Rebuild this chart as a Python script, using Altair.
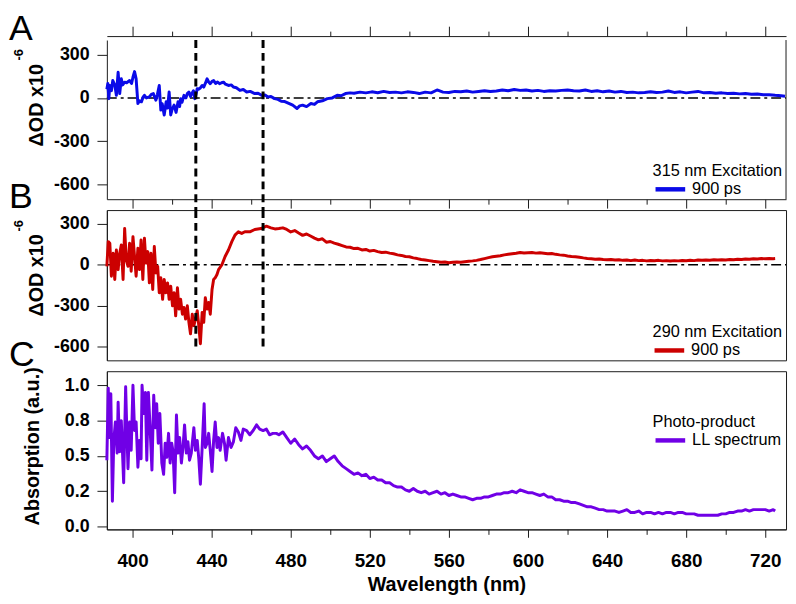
import altair as alt
import pandas as pd

# ---------------- data ----------------
wl_a = [
    387, 387.5, 388, 388.5, 389.3, 390, 391, 391.8, 392.7, 393.5,
    394.3, 395, 396, 397, 398.5, 399.5, 400.2, 401, 401.8, 402.7,
    403.5, 404.5, 405.3, 406, 407, 408.5, 409.5, 410.5, 411.8, 412.5,
    413.5, 414.3, 415, 416, 417, 417.7, 418.5, 419.3, 420, 421,
    422, 423, 423.8, 424.3, 425, 426, 427, 427.7, 428.5, 429.3,
    430, 430.8, 431.5, 432.2, 432.7, 433.5, 434.3, 435.2, 436, 436.8,
    437.7, 438.5, 439.3, 440.2, 441, 442, 443, 444, 445, 446,
    447, 448.5, 450, 451, 452.5, 454.3, 456, 457.7, 459.5, 461.8,
    463.5, 465.2, 467, 468.5, 470, 471.8, 473.5, 475.2, 477, 479.3,
    481, 483.2, 484.5, 486, 488, 490.2, 492, 493.5, 496, 498.5,
    501, 503.5, 505.5, 507.7, 510, 512, 515, 518, 521, 524,
    527, 530, 533, 536, 539, 542, 545, 548, 551, 554,
    557, 560, 563, 566, 569, 572, 575, 578, 581, 584,
    587, 590, 593, 596, 599, 602, 605, 608, 611, 614,
    617, 620, 623, 626, 629, 632, 635, 638, 641, 644,
    647, 650, 653, 656, 659, 662, 665, 668, 671, 674,
    677, 680, 683, 686, 689, 692, 695, 698, 701, 704,
    707, 710, 713, 716, 719, 722, 725, 728, 730]
od_a = [
    60, 100, -5, 86, 50, 120, 90, 18, 177, 30,
    132, 90, 109, 105, 120, 100, 143, 182, 132, -39,
    -20, -27, 5, 18, 0, 7, 25, 30, -16, 20,
    86, -84, -40, -118, -27, -70, 41, -118, -80, -50,
    -100, -27, -60, -5, -30, 18, 0, 30, 41, 10,
    30, 50, -5, 30, 64, 60, 70, 86, 75, 100,
    132, 110, 98, 115, 120, 100, 110, 98, 105, 109,
    95, 86, 90, 75, 70, 52, 58, 41, 45, 30,
    32, 18, 20, 7, 10, -5, -10, -23, -25, -39,
    -50, -73, -55, -50, -60, -39, -45, -27, -20, -5,
    0, 18, 15, 30, 35, 32, 40, 35, 42, 36,
    45, 38, 40, 35, 42, 38, 30, 40, 35, 55,
    40, 38, 45, 42, 48, 40, 45, 50, 44, 48,
    55, 50, 58, 52, 55, 48, 52, 45, 50, 48,
    52, 55, 50, 48, 55, 45, 50, 42, 48, 40,
    45, 38, 40, 35, 38, 42, 38, 40, 48, 38,
    42, 35, 40, 45, 35, 38, 32, 35, 30, 32,
    28, 30, 25, 27, 22, 22, 18, 15, 12]

wl_b = [
    387, 387.7, 388.5, 389.3, 390.2, 391, 391.8, 392.7, 393.5, 394.3,
    395.2, 396, 396.8, 397.7, 398.5, 399.3, 400.2, 401, 401.8, 402.7,
    403.5, 404.3, 405.2, 406, 406.8, 407.7, 408.5, 409.3, 410.2, 411,
    411.8, 412.7, 413.5, 414.3, 415.2, 416, 416.8, 417.7, 418.5, 419.3,
    420.2, 421, 421.8, 422.7, 423.5, 424.3, 425.2, 426, 426.8, 427.7,
    428.5, 429.3, 430.2, 431, 431.8, 432.7, 433.5, 434.3, 435.2, 436,
    436.8, 437.7, 438.5, 439.3, 440.2, 441, 441.8, 442.7, 443.5, 445.2,
    446.8, 448.5, 450.2, 451.8, 453.5, 455.2, 456.8, 459.3, 461.8, 465,
    467.7, 470, 472, 474, 476, 478, 480, 482, 484, 486,
    488, 490, 492, 494, 496, 498, 500, 502, 504, 506,
    508, 510, 512, 514, 516, 518, 520, 522, 524, 526,
    528, 530, 532, 534, 536, 538, 540, 542, 544, 546,
    548, 550, 552, 554, 556, 558, 560, 562, 564, 566,
    568, 570, 572, 574, 576, 578, 580, 582, 584, 586,
    588, 590, 592, 594, 596, 598, 600, 602, 604, 606,
    608, 610, 612, 614, 616, 618, 620, 622, 624, 626,
    628, 630, 632, 634, 636, 638, 640, 642, 644, 646,
    648, 650, 652, 654, 656, 658, 660, 662, 664, 666,
    668, 670, 672, 674, 676, 678, 680, 682, 684, 686,
    688, 690, 692, 694, 696, 698, 700, 702, 704, 706,
    708, 710, 712, 714, 716, 718, 720, 722, 724, 725]
od_b = [
    -12, 169, 157, -84, 84, -108, 108, -36, 84, 145,
    -108, 265, 36, -12, 157, -48, 205, 60, -84, 120,
    -36, 181, -108, 193, 12, 96, -133, 84, -181, 133,
    -60, -12, -205, -96, -253, -108, -205, -133, -253, -157,
    -301, -205, -374, -169, -325, -253, -362, -313, -398, -301,
    -422, -506, -362, -446, -398, -337, -446, -578, -349, -422,
    -241, -325, -277, -362, -181, -108, -96, -72, -36, 0,
    60, 108, 169, 217, 241, 229, 241, 241, 258, 265,
    282, 270, 262, 265, 270, 258, 240, 250, 232, 215,
    225, 210, 195, 182, 190, 165, 170, 158, 150, 140,
    130, 128, 118, 120, 108, 112, 100, 105, 96, 90,
    92, 85, 80, 72, 68, 60, 58, 50, 45, 38,
    35, 30, 25, 22, 18, 20, 15, 18, 20, 18,
    22, 25, 28, 32, 38, 45, 52, 58, 62, 66,
    72, 76, 80, 84, 90, 86, 88, 90, 85, 88,
    84, 80, 82, 76, 72, 70, 64, 60, 58, 55,
    50, 46, 44, 40, 42, 38, 36, 38, 34, 36,
    32, 35, 30, 34, 30, 32, 28, 31, 29, 32,
    28, 30, 27, 30, 28, 31, 29, 32, 30, 34,
    32, 35, 33, 36, 34, 37, 35, 38, 36, 40,
    38, 42, 40, 44, 42, 45, 43, 46, 44, 45]

wl_c = [
    387, 387.7, 388.5, 389, 389.8, 390.5, 391.3, 392.2, 392.7, 393.5,
    394.3, 395.5, 396.5, 397.2, 397.7, 398.5, 399.3, 400.2, 401, 401.8,
    402.7, 403.5, 404.3, 404.8, 405.7, 406.5, 407.2, 408, 408.8, 409.8,
    410.7, 411.5, 412.2, 413, 413.8, 414.8, 415.7, 416.5, 417.3, 418.2,
    419, 419.8, 420.5, 421.3, 422.2, 423, 423.8, 424.7, 425.5, 426.3,
    427.2, 428, 428.8, 429.7, 431, 431.8, 432.7, 433.5, 434.3, 435.2,
    436.2, 436.8, 437.7, 438.5, 439.3, 440.2, 441, 441.8, 442.7, 443.5,
    444.3, 445.5, 446.5, 447.3, 448.5, 449.8, 451, 452.2, 453.5, 454.8,
    456, 457.7, 459.3, 461, 462.7, 464.3, 466, 467.7, 469.3, 471,
    472.7, 474, 476, 478, 480, 482, 484, 486, 488, 490,
    492, 494, 496, 498, 500, 502, 504, 506, 508, 510,
    512, 514, 516, 518, 520, 522, 524, 526, 528, 530,
    532, 534, 536, 538, 540, 542, 544, 546, 548, 550,
    552, 554, 556, 558, 560, 562, 564, 566, 568, 570,
    572, 574, 576, 578, 580, 582, 584, 586, 588, 590,
    592, 594, 596, 598, 600, 602, 604, 606, 608, 610,
    612, 614, 616, 618, 620, 622, 624, 626, 628, 630,
    632, 634, 636, 638, 640, 642, 644, 646, 648, 650,
    652, 654, 656, 658, 660, 662, 664, 666, 668, 670,
    672, 674, 676, 678, 680, 682, 684, 686, 688, 690,
    692, 694, 696, 698, 700, 702, 704, 706, 708, 710,
    712, 714, 716, 718, 720, 722, 724, 725]
abs_c = [
    0.47, 0.98, 0.63, 0.94, 0.18, 0.61, 0.74, 0.52, 0.88, 0.53,
    0.75, 0.31, 0.99, 0.63, 0.41, 0.74, 0.54, 1.0, 0.68, 0.74,
    0.42, 0.61, 0.48, 1.0, 0.80, 0.95, 0.47, 0.95, 0.72, 0.40,
    0.93, 0.70, 0.87, 0.59, 0.80, 0.45, 0.37, 0.59, 0.49, 0.66,
    0.45, 0.59, 0.53, 0.24, 0.79, 0.52, 0.63, 0.45, 0.56, 0.72,
    0.52, 0.60, 0.47, 0.52, 0.70, 0.54, 0.61, 0.48, 0.30, 0.56,
    0.87, 0.56, 0.59, 0.66, 0.54, 0.39, 0.61, 0.74, 0.56, 0.63,
    0.54, 0.66, 0.59, 0.47, 0.63, 0.56, 0.60, 0.70, 0.67, 0.61,
    0.69, 0.68, 0.65, 0.68, 0.72, 0.69, 0.68, 0.69, 0.65, 0.66,
    0.66, 0.65, 0.67, 0.63, 0.59, 0.62, 0.58, 0.55, 0.57, 0.54,
    0.50, 0.48, 0.50, 0.46, 0.48, 0.50, 0.46, 0.43, 0.41, 0.39,
    0.37, 0.38, 0.36, 0.37, 0.34, 0.35, 0.33, 0.33, 0.31, 0.31,
    0.29, 0.28, 0.28, 0.26, 0.25, 0.27, 0.25, 0.24, 0.25, 0.23,
    0.24, 0.25, 0.23, 0.24, 0.22, 0.23, 0.22, 0.21, 0.21, 0.20,
    0.19, 0.20, 0.20, 0.21, 0.21, 0.22, 0.23, 0.23, 0.24, 0.24,
    0.25, 0.24, 0.26, 0.25, 0.24, 0.24, 0.23, 0.22, 0.23, 0.21,
    0.21, 0.19, 0.19, 0.18, 0.18, 0.17, 0.17, 0.16, 0.15, 0.14,
    0.14, 0.13, 0.12, 0.12, 0.11, 0.11, 0.11, 0.10, 0.11, 0.12,
    0.10, 0.10, 0.11, 0.09, 0.10, 0.10, 0.09, 0.10, 0.09, 0.10,
    0.10, 0.09, 0.10, 0.10, 0.09, 0.09, 0.09, 0.08, 0.08, 0.08,
    0.08, 0.08, 0.08, 0.09, 0.09, 0.10, 0.10, 0.11, 0.11, 0.12,
    0.11, 0.12, 0.12, 0.12, 0.12, 0.11, 0.12, 0.11]

marker_wl = [432, 466]
x_ticks = [400, 420, 440, 460, 480, 500, 520, 540, 560, 580, 600,
           620, 640, 660, 680, 700, 720]
od_ticks = [-600, -300, 0, 300]
abs_ticks = [0, 0.25, 0.5, 0.75, 1.0]

# ---------------- styling ----------------
FONT = "Liberation Sans"
INK = "#1a1a1a"
BLUE, RED, PURPLE = "#0a0ae8", "#cc0000", "#7000e6"
W = 687
HA, HB, HC = 161, 152, 160
XDOM = [387, 730.5]


def mm(big, small):
    return {"condition": {"test": "datum.value % 40 === 0", "value": big}, "value": small}


xscale = alt.Scale(domain=XDOM, nice=False, zero=False)
ONE = alt.Data(values=[{"a": 1}])


def txt(s, x, y, size, weight="normal", angle=0, align="left", baseline="middle"):
    return alt.Chart(ONE).mark_text(
        text=s, font=FONT, fontSize=size, fontWeight=weight, angle=angle,
        align=align, baseline=baseline, color="black"
    ).encode(x=alt.value(x), y=alt.value(y))


def hline(x1, x2, y, color, width, dash=None):
    kw = dict(color=color, strokeWidth=width)
    if dash:
        kw["strokeDash"] = dash
    return alt.Chart(ONE).mark_rule(**kw).encode(
        x=alt.value(x1), x2=alt.value(x2), y=alt.value(y))


def od_y():
    return alt.Y("v:Q", scale=alt.Scale(domain=[-700, 400], nice=False),
                 axis=alt.Axis(values=od_ticks, title=None, tickSize=10,
                               labelPadding=8, grid=False, labelExpr="'' + datum.value"))


def zero_line(y_enc):
    return alt.Chart(pd.DataFrame({"v": [0]})).mark_rule(
        color="black", strokeWidth=1.5, strokeDash=[10, 4, 3, 4]
    ).encode(y=y_enc, x=alt.value(0), x2=alt.value(W))


df_a = pd.DataFrame({"wl": wl_a, "v": od_a})
df_b = pd.DataFrame({"wl": wl_b, "v": od_b})
df_c = pd.DataFrame({"wl": wl_c, "v": abs_c})
df_m = pd.DataFrame({"wl": marker_wl})

# ---------------- panel A ----------------
ya = od_y()
trace_a = alt.Chart(df_a).mark_line(color=BLUE, strokeWidth=3, strokeJoin="round").encode(
    x=alt.X("wl:Q", scale=xscale,
            axis=alt.Axis(values=x_ticks, labels=False, tickSize=mm(9, 5), title=None, grid=False)),
    y=ya)
marks_a = alt.Chart(df_m).mark_rule(color="black", strokeWidth=3, strokeDash=[8, 5]).encode(
    x=alt.X("wl:Q", scale=xscale,
            axis=alt.Axis(orient="top", values=x_ticks, labels=False, tickSize=mm(10, 5),
                          offset=4, title=None, grid=False)),
    y=alt.value(0), y2=alt.value(HA + 11))
right_a = alt.Chart(ONE).mark_rule(color=INK, strokeWidth=1).encode(
    x=alt.value(W), y=alt.value(0), y2=alt.value(HA))
panel_a = alt.layer(
    zero_line(ya), trace_a, marks_a, right_a,
    txt("315 nm Excitation", 552, 133, 16.5),
    hline(555, 585, 151, BLUE, 4.5),
    txt("900 ps", 592, 151, 16.5),
    txt("ΔOD x10", -71, 66, 20, "bold", 270, "center"),
    txt("-6", -89, 15, 13, "bold", 270, "center"),
    txt("A", -99, 0, 36, baseline="alphabetic"),
).properties(width=W, height=HA, view=alt.ViewBackground(stroke=None)).resolve_axis(x="independent")

# ---------------- panel B ----------------
yb = od_y()
trace_b = alt.Chart(df_b).mark_line(color=RED, strokeWidth=3, strokeJoin="round").encode(
    x=alt.X("wl:Q", scale=xscale,
            axis=alt.Axis(values=x_ticks, labels=False, tickSize=mm(9, 5), title=None, grid=False)),
    y=yb)
marks_b = alt.Chart(df_m).mark_rule(color="black", strokeWidth=3, strokeDash=[8, 5]).encode(
    x=alt.X("wl:Q", scale=xscale, axis=None),
    y=alt.value(0), y2=alt.value(HB - 9))
panel_b = alt.layer(
    zero_line(yb), trace_b, marks_b,
    txt("290 nm Excitation", 552, 123, 16.5),
    hline(554, 584, 142, RED, 4.5),
    txt("900 ps", 591, 142, 16.5),
    txt("ΔOD x10", -71, 66, 20, "bold", 270, "center"),
    txt("-6", -89, 16, 13, "bold", 270, "center"),
    txt("B", -99, -2, 36, baseline="alphabetic"),
).properties(width=W, height=HB, view=alt.ViewBackground(stroke=INK, strokeWidth=1))

# ---------------- panel C ----------------
trace_c = alt.Chart(df_c).mark_line(color=PURPLE, strokeWidth=3, strokeJoin="round").encode(
    x=alt.X("wl:Q", scale=xscale,
            axis=alt.Axis(values=x_ticks, tickSize=mm(8, 5),
                          labelExpr="datum.value % 40 === 0 ? datum.label : ''",
                          labelFontSize=19, labelPadding=15, labelFlush=False, labelOverlap=False,
                          title="Wavelength (nm)", titleFontSize=20, titleFontWeight="bold",
                          titlePadding=4, grid=False)),
    y=alt.Y("v:Q", scale=alt.Scale(domain=[-0.02, 1.1], nice=False, zero=False),
            axis=alt.Axis(values=abs_ticks, title=None, tickSize=10, labelPadding=8, grid=False,
                          labelExpr="datum.value == 0.25 ? '0.2' : format(datum.value, '.1f')")))
panel_c = alt.layer(
    trace_c,
    txt("Photo-product", 552, 51, 16.5),
    hline(555, 585, 70, PURPLE, 4.5),
    txt("LL spectrum", 592, 70, 16.5),
    txt("Absorption (a.u.)", -75, 76, 20, "bold", 270, "center"),
    txt("C", -99, -5, 36, baseline="alphabetic"),
).properties(width=W, height=HC, view=alt.ViewBackground(stroke=INK, strokeWidth=1))

chart = alt.vconcat(panel_a, panel_b, panel_c, spacing=11, bounds="flush").properties(
    padding=0
).configure(font=FONT).configure_axis(
    domainColor=INK, tickColor=INK, domainWidth=1, tickWidth=1,
    labelFont=FONT, labelFontWeight="bold", labelFontSize=18, labelColor="black",
    titleFont=FONT, titleColor="black", grid=False
)

chart.save("out.html", embed_options={"renderer": "svg", "actions": False})
